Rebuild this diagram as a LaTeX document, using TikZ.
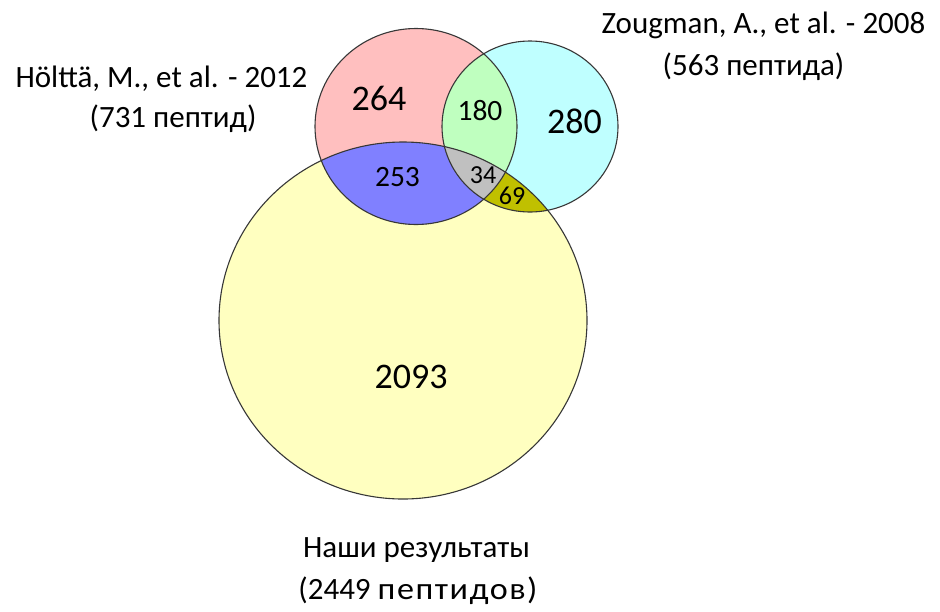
\documentclass[tikz,border=0pt]{standalone}
\usepackage{fontspec}
\setmainfont{Carlito}
\definecolor{pinkc}{RGB}{255,191,191}
\definecolor{cyanc}{RGB}{191,255,255}
\definecolor{yellowc}{RGB}{255,255,192}
\definecolor{greenc}{RGB}{191,255,191}
\definecolor{bluec}{RGB}{128,128,255}
\definecolor{olivec}{RGB}{192,192,0}
\definecolor{grayc}{RGB}{192,192,192}
\definecolor{edgec}{RGB}{55,55,55}
\begin{document}
\begin{tikzpicture}[x=1pt,y=-1pt,
  big/.style={font=\fontsize{36}{40}\selectfont, inner sep=0pt},
  mid/.style={font=\fontsize{29.5}{34}\selectfont, inner sep=0pt},
  small/.style={font=\fontsize{26}{30}\selectfont, inner sep=0pt},
  lbl/.style={font=\fontsize{31}{36}\selectfont, inner sep=0pt, anchor=base},
  edge/.style={draw=edgec, line width=1.1pt}]
\useasboundingbox (0,0) rectangle (940,611);
\coordinate (cp) at (416,126.5);
\coordinate (cc) at (530,126.5);
\coordinate (cy) at (403,320.5);
\def\pinkshape{(cp) ellipse [x radius=101pt, y radius=98pt]}
\def\cyanshape{(cc) ellipse [x radius=88pt, y radius=85.5pt]}
\def\yellowshape{(cy) ellipse [x radius=184pt, y radius=178.5pt]}
% base fills
\fill[yellowc] \yellowshape;
\fill[pinkc] \pinkshape;
\fill[cyanc] \cyanshape;
% pairwise overlaps
\begin{scope}
  \clip \pinkshape;
  \fill[greenc] \cyanshape;
  \fill[bluec] \yellowshape;
\end{scope}
\begin{scope}
  \clip \cyanshape;
  \fill[olivec] \yellowshape;
\end{scope}
\begin{scope}
  \clip \pinkshape;
  \clip \cyanshape;
  \fill[grayc] \yellowshape;
\end{scope}
% outlines
\draw[edge] \yellowshape;
\draw[edge] \pinkshape;
\draw[edge] \cyanshape;
% region numbers
\node[big] (n264) at (379,98.7) {264};
\node[mid] (n180) at (480,110.8) {180};
\node[big] (n280) at (574.5,121) {280};
\node[mid] (n253) at (397.5,177.5) {253};
\node[small] (n34) at (483,175.3) {34};
\node[small] (n69) at (512,195.5) {69};
\node[big] (n2093) at (411,376.5) {2093};
% set labels
\node[lbl] (h1) at (161.5,87) {Hölttä, M., et al. - 2012};
\node[lbl] (h2) at (173,127) {(731 пептид)};
\node[lbl] (z1) at (763.5,33) {Zougman, A., et al. - 2008};
\node[lbl] (z2) at (753.5,75) {(563 пептида)};
\node[lbl] (o1) at (416.5,557) {Наши результаты};
\node[lbl] (o2) at (418,599) {(2449 {\addfontfeature{FakeStretch=1.1,LetterSpace=5}пептидов)}};
\end{tikzpicture}
\end{document}
